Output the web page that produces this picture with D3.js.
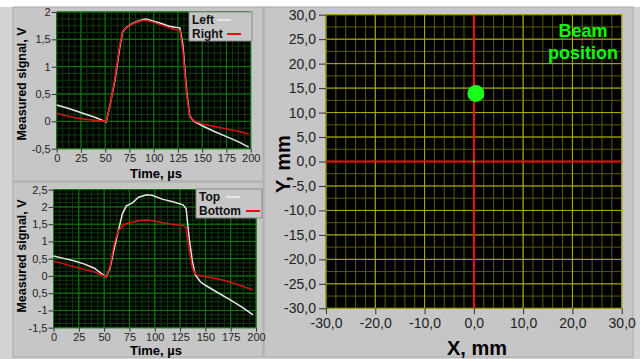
<!DOCTYPE html>
<html>
<head>
<meta charset="utf-8">
<script src="https://cdn.jsdelivr.net/npm/d3@7"></script>
<style>
  body { margin: 0; background: #fff; }
  svg { display: block; font-family: "Liberation Sans", Arial, sans-serif; }
  .tick text { fill: #222; }
  .tick line { stroke: #333; }
</style>
</head>
<body>
<div id="app"></div>
<script>
//////////////////////////// data /////////////////////////////////////////

const timeLR = [0, 10, 20, 30, 40, 51, 55, 60, 65, 68, 72, 78, 85, 92, 100, 108, 116, 122, 127, 130, 134, 137, 141, 150, 162, 175, 187, 198];
const leftSignal = [0.30, 0.25, 0.19, 0.13, 0.07, -0.01, 0.30, 0.75, 1.35, 1.64, 1.72, 1.79, 1.84, 1.87, 1.83, 1.79, 1.74, 1.72, 1.71, 1.40, 0.55, 0.10, 0.01, -0.08, -0.18, -0.28, -0.37, -0.47];
const rightSignal = [0.15, 0.10, 0.06, 0.04, 0.02, 0.00, 0.28, 0.80, 1.40, 1.66, 1.71, 1.78, 1.83, 1.85, 1.81, 1.76, 1.71, 1.68, 1.66, 1.30, 0.48, 0.08, 0.02, -0.05, -0.09, -0.14, -0.18, -0.23];

const timeTB = [0, 10, 20, 30, 40, 52, 56, 60, 64, 68, 72, 78, 84, 92, 98, 108, 118, 128, 131, 134, 137, 140, 145, 150, 162, 175, 187, 197];
const topSignal = [0.58, 0.51, 0.44, 0.35, 0.23, -0.03, 0.25, 0.80, 1.30, 1.80, 2.03, 2.12, 2.28, 2.35, 2.33, 2.22, 2.15, 2.06, 1.95, 1.10, 0.45, 0.03, -0.17, -0.27, -0.48, -0.70, -0.92, -1.13];
const bottomSignal = [0.43, 0.35, 0.27, 0.19, 0.12, -0.03, 0.30, 0.95, 1.30, 1.45, 1.52, 1.56, 1.60, 1.62, 1.60, 1.54, 1.49, 1.46, 1.40, 0.75, 0.25, 0.05, 0.00, -0.02, -0.08, -0.18, -0.30, -0.41];

const timeTicks = [0, 25, 50, 75, 100, 125, 150, 175, 200];
const lrTicks = [-0.5, 0, 0.5, 1, 1.5, 2];
const lrTickLabels = ["-0,5", "0", "0,5", "1", "1,5", "2"];
const tbTicks = [-1.5, -1, -0.5, 0, 0.5, 1, 1.5, 2, 2.5];
const tbTickLabels = ["-1,5", "-1", "0,5", "0", "0,5", "1", "1,5", "2", "2,5"];

const mmTicks = [-30, -20, -10, 0, 10, 20, 30];
const mmYTicks = [-30, -25, -20, -15, -10, -5, 0, 5, 10, 15, 20, 25, 30];
const beam = [{ x: 0.4, y: 13.9 }];

//////////////////////////// svg ///////////////////////////////////////////

const width = 640, height = 359;
const svg = d3.select("#app").append("svg").attr("width", width).attr("height", height);

svg.append("rect").attr("x", 0).attr("y", 7).attr("width", width).attr("height", height - 7).attr("fill", "#d2d2d2");

// panels
const panels = [
  { x: 13, y: 7, w: 250, h: 174 },
  { x: 13, y: 182, w: 250, h: 175 },
  { x: 264, y: 7, w: 369, h: 350 }
];
svg.selectAll(".panel").data(panels).enter().append("rect")
  .attr("class", "panel")
  .attr("x", d => d.x).attr("y", d => d.y)
  .attr("width", d => d.w).attr("height", d => d.h)
  .attr("fill", "#c6c6c6")
  .attr("stroke", "#a8a8a8").attr("stroke-width", 1);

const fmt = v => d3.format(".1f")(v).replace(".", ",").replace("\u2212", "-");

//////////////////////////// small signal plots /////////////////////////////

const smallPlot = (cfg) => {
  const x = d3.scaleLinear().domain([0, 200]).range(cfg.xr);
  const y = d3.scaleLinear().domain(cfg.yd).range(cfg.yr);
  const g = svg.append("g");

  g.append("rect")
    .attr("x", cfg.xr[0]).attr("y", cfg.yr[1])
    .attr("width", cfg.xr[1] - cfg.xr[0]).attr("height", cfg.yr[0] - cfg.yr[1])
    .attr("fill", "#000");

  // minor grid
  const xMinor = d3.range(0, 200.01, 6.25);
  const yMinor = d3.range(cfg.yd[0], cfg.yd[1] + 0.001, 0.125);
  g.selectAll(".xmin").data(xMinor).enter().append("line")
    .attr("x1", d => x(d)).attr("x2", d => x(d))
    .attr("y1", cfg.yr[0]).attr("y2", cfg.yr[1])
    .attr("stroke", "#093c09").attr("stroke-width", 1);
  g.selectAll(".ymin").data(yMinor).enter().append("line")
    .attr("y1", d => y(d)).attr("y2", d => y(d))
    .attr("x1", cfg.xr[0]).attr("x2", cfg.xr[1])
    .attr("stroke", "#093c09").attr("stroke-width", 1);
  // major grid
  g.selectAll(".xmaj").data(timeTicks).enter().append("line")
    .attr("x1", d => x(d)).attr("x2", d => x(d))
    .attr("y1", cfg.yr[0]).attr("y2", cfg.yr[1])
    .attr("stroke", "#0c800c").attr("stroke-width", 1);
  g.selectAll(".ymaj").data(cfg.ticks).enter().append("line")
    .attr("y1", d => y(d)).attr("y2", d => y(d))
    .attr("x1", cfg.xr[0]).attr("x2", cfg.xr[1])
    .attr("stroke", "#0c800c").attr("stroke-width", 1);

  // axes
  g.append("g")
    .attr("transform", `translate(0,${cfg.yr[0]})`)
    .call(d3.axisBottom(x).tickValues(timeTicks).tickSize(4).tickPadding(2))
    .call(a => a.select(".domain").remove())
    .call(a => a.selectAll("text").style("font-size", "11px"));

  g.append("g")
    .attr("transform", `translate(${cfg.xr[0]},0)`)
    .call(d3.axisLeft(y).tickValues(cfg.ticks).tickSize(5).tickPadding(1)
      .tickFormat((d, i) => cfg.labels[i]))
    .call(a => a.select(".domain").remove())
    .call(a => a.selectAll("text").style("font-size", "11px"));

  // lines
  const line = d3.line().x((d, i) => x(cfg.t[i])).y(d => y(d));
  cfg.series.forEach(s => {
    g.append("path").datum(s.values)
      .attr("d", line)
      .attr("fill", "none")
      .attr("stroke", s.color)
      .attr("stroke-width", 1.5);
  });

  // legend
  const lg = g.append("g").attr("transform", `translate(${cfg.legend.x},${cfg.legend.y})`);
  lg.append("rect").attr("width", cfg.legend.w).attr("height", 29)
    .attr("fill", "#c6c6c6").attr("stroke", "#8a8a8a");
  cfg.series.forEach((s, i) => {
    lg.append("text").attr("x", 3).attr("y", 12 + i * 14)
      .text(s.name).style("font-size", "12px").style("font-weight", "bold").attr("fill", "#111");
    lg.append("line").attr("x1", s.lx).attr("x2", s.lx + 14)
      .attr("y1", 8 + i * 14).attr("y2", 8 + i * 14)
      .attr("stroke", s.color).attr("stroke-width", 2);
  });

  // labels
  g.append("text")
    .attr("x", cfg.xlab[0]).attr("y", cfg.xlab[1])
    .attr("text-anchor", "middle")
    .style("font-size", "13px").style("font-weight", "bold")
    .text("Time, µs");
  g.append("text")
    .attr("transform", `translate(${cfg.ylab[0]},${cfg.ylab[1]}) rotate(-90)`)
    .attr("text-anchor", "middle")
    .style("font-size", "12.5px").style("font-weight", "bold")
    .text("Measured signal, V");
};

smallPlot({
  xr: [56.7, 250.7], yd: [-0.5, 2], yr: [148.7, 12],
  ticks: lrTicks, labels: lrTickLabels, t: timeLR,
  series: [
    { name: "Left", values: leftSignal, color: "#e6e6e6", lx: 28 },
    { name: "Right", values: rightSignal, color: "#e01010", lx: 38 }
  ],
  legend: { x: 189, y: 12, w: 63 },
  xlab: [156, 178], ylab: [26, 84]
});

smallPlot({
  xr: [53.5, 256], yd: [-1.5, 2.5], yr: [327.7, 189.7],
  ticks: tbTicks, labels: tbTickLabels, t: timeTB,
  series: [
    { name: "Top", values: topSignal, color: "#e6e6e6", lx: 30 },
    { name: "Bottom", values: bottomSignal, color: "#e01010", lx: 50 }
  ],
  legend: { x: 196, y: 189, w: 66 },
  xlab: [156, 355], ylab: [26, 256]
});

//////////////////////////// beam position plot ////////////////////////////

const bx = d3.scaleLinear().domain([-30, 30]).range([326, 621.7]);
const by = d3.scaleLinear().domain([-30, 30]).range([308.3, 14.7]);
const bg = svg.append("g");

bg.append("rect").attr("x", 326).attr("y", 14.7)
  .attr("width", 621.7 - 326).attr("height", 308.3 - 14.7).attr("fill", "#000");

bg.selectAll(".bxmin").data(d3.range(-30, 30.01, 2)).enter().append("line")
  .attr("x1", d => bx(d)).attr("x2", d => bx(d)).attr("y1", 14.7).attr("y2", 308.3)
  .attr("stroke", "#5c5c00").attr("stroke-width", 1);
bg.selectAll(".bymin").data(d3.range(-30, 30.01, 2.5)).enter().append("line")
  .attr("y1", d => by(d)).attr("y2", d => by(d)).attr("x1", 326).attr("x2", 621.7)
  .attr("stroke", "#5c5c00").attr("stroke-width", 1);
bg.selectAll(".bxmaj").data(mmTicks).enter().append("line")
  .attr("x1", d => bx(d)).attr("x2", d => bx(d)).attr("y1", 14.7).attr("y2", 308.3)
  .attr("stroke", "#adad00").attr("stroke-width", 1);
bg.selectAll(".bymaj").data(mmYTicks).enter().append("line")
  .attr("y1", d => by(d)).attr("y2", d => by(d)).attr("x1", 326).attr("x2", 621.7)
  .attr("stroke", "#adad00").attr("stroke-width", 1);

// crosshair
bg.append("line").attr("x1", bx(0)).attr("x2", bx(0)).attr("y1", 14.7).attr("y2", 308.3)
  .attr("stroke", "#f01010").attr("stroke-width", 2);
bg.append("line").attr("y1", by(0)).attr("y2", by(0)).attr("x1", 326).attr("x2", 621.7)
  .attr("stroke", "#f01010").attr("stroke-width", 2);
bg.append("circle").attr("cx", bx(0)).attr("cy", by(0)).attr("r", 1.2).attr("fill", "#33cc33");

// beam spot
bg.selectAll(".beam").data(beam).enter().append("ellipse")
  .attr("cx", d => bx(d.x)).attr("cy", d => by(d.y))
  .attr("rx", 8.5).attr("ry", 8.5)
  .attr("fill", "#1aff1a");

bg.append("g").attr("transform", "translate(0,308.3)")
  .call(d3.axisBottom(bx).tickValues(mmTicks).tickSize(6).tickPadding(4).tickFormat(fmt))
  .call(a => a.select(".domain").remove())
  .call(a => a.selectAll("text").style("font-size", "14px"));
bg.append("g").attr("transform", "translate(326,0)")
  .call(d3.axisLeft(by).tickValues(mmYTicks).tickSize(7).tickPadding(3).tickFormat(fmt))
  .call(a => a.select(".domain").remove())
  .call(a => a.selectAll("text").style("font-size", "14px"));

bg.append("text").attr("x", 447).attr("y", 355)
  .style("font-size", "20px").style("font-weight", "bold").text("X, mm");
bg.append("text").attr("transform", "translate(290,164) rotate(-90)")
  .attr("text-anchor", "middle")
  .style("font-size", "20px").style("font-weight", "bold").text("Y, mm");

bg.append("text").attr("x", 583).attr("y", 37).attr("text-anchor", "middle")
  .style("font-size", "18px").style("font-weight", "bold").attr("fill", "#00ff00").text("Beam");
bg.append("text").attr("x", 583).attr("y", 59).attr("text-anchor", "middle")
  .style("font-size", "18px").style("font-weight", "bold").attr("fill", "#00ff00").text("position");
</script>
</body>
</html>
